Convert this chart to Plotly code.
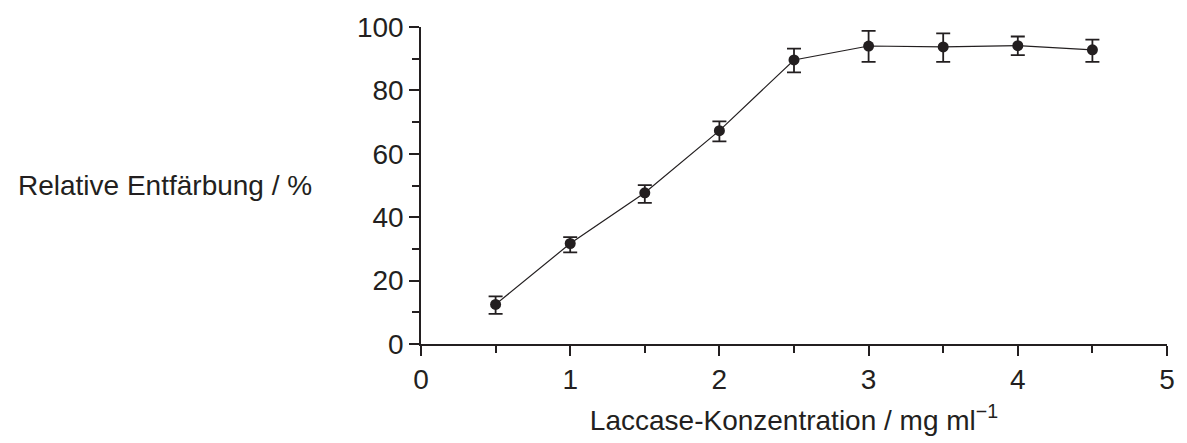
import plotly.graph_objects as go

# Data
concentration = [0.5, 1.0, 1.5, 2.0, 2.5, 3.0, 3.5, 4.0, 4.5]
decolorization = [12.5, 31.7, 47.7, 67.3, 89.6, 94.0, 93.7, 94.1, 92.8]
err_upper = [2.5, 2.0, 2.4, 2.9, 3.6, 4.8, 4.3, 2.9, 3.2]
err_lower = [3.0, 2.8, 3.2, 3.4, 3.9, 5.0, 4.7, 3.0, 3.8]

x_ticks = [0, 1, 2, 3, 4, 5]
y_ticks = [0, 20, 40, 60, 80, 100]

ink = "#231f20"
font_family = "Liberation Sans, Arial, Helvetica, sans-serif"

W, H = 1187, 443
ml, mr, mt, mb = 421, 13, 20, 90
plot_w = W - ml - mr

fig = go.Figure()
fig.add_trace(go.Scatter(
    x=concentration,
    y=decolorization,
    mode="lines+markers",
    line=dict(color=ink, width=1.2),
    marker=dict(color=ink, size=11, symbol="circle"),
    error_y=dict(
        type="data",
        symmetric=False,
        array=err_upper,
        arrayminus=err_lower,
        color=ink,
        thickness=1.8,
        width=7,
    ),
    showlegend=False,
    hoverinfo="skip",
))

axis_common = dict(
    showgrid=False,
    zeroline=False,
    showline=True,
    linecolor=ink,
    linewidth=1.5,
    ticks="outside",
    ticklen=10,
    tickwidth=1.5,
    tickcolor=ink,
    tickfont=dict(family=font_family, size=28, color=ink),
)

fig.update_layout(
    width=W,
    height=H,
    margin=dict(l=ml, r=mr, t=mt, b=mb, pad=0),
    paper_bgcolor="white",
    plot_bgcolor="white",
    font=dict(family=font_family, size=28, color=ink),
    xaxis=dict(
        range=[0, 5],
        tickvals=x_ticks,
        ticktext=[str(v) for v in x_ticks],
        minor=dict(dtick=0.5, tick0=0, ticks="outside", ticklen=7, tickwidth=1.5, tickcolor=ink),
        title=dict(
            text="Laccase-Konzentration / mg ml<sup>−1</sup>",
            font=dict(family=font_family, size=28, color=ink),
            standoff=16,
        ),
        **axis_common,
    ),
    yaxis=dict(
        range=[0, 100],
        tickvals=y_ticks,
        ticktext=[str(v) for v in y_ticks],
        minor=dict(dtick=10, tick0=0, ticks="outside", ticklen=7, tickwidth=1.5, tickcolor=ink),
        **axis_common,
    ),
    annotations=[dict(
        text="Relative Entfärbung / %",
        xref="paper", yref="paper",
        x=(12 - ml) / plot_w, y=0.5,
        xanchor="left", yanchor="middle",
        showarrow=False,
        font=dict(family=font_family, size=28, color=ink),
    )],
)

fig.write_html(
    "out.html",
    config={"displayModeBar": False},
    post_script="document.body.style.margin='0';document.body.style.overflow='hidden';",
)
